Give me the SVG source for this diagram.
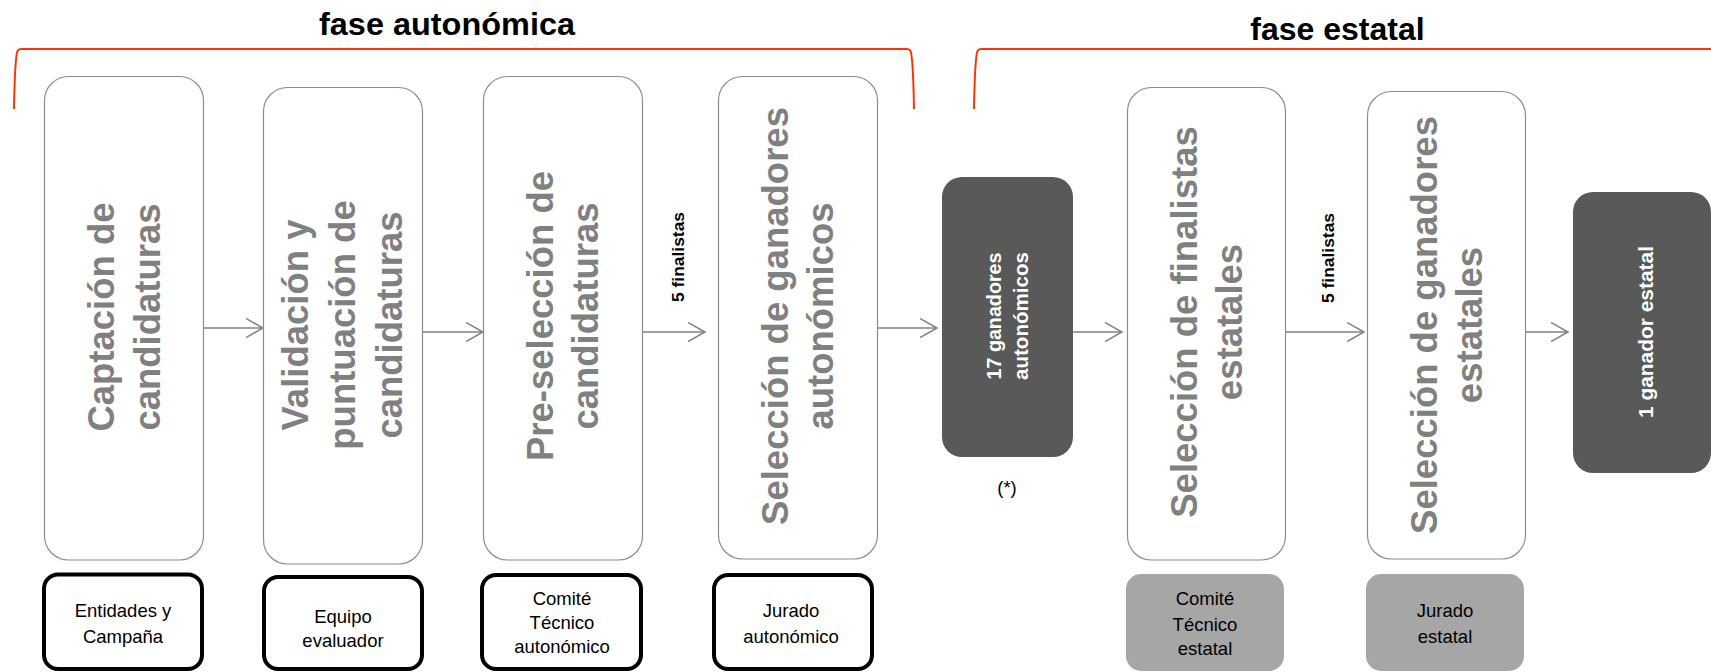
<svg xmlns="http://www.w3.org/2000/svg" width="1711" height="672" viewBox="0 0 1711 672">
<style>
.title{font-family:"Liberation Sans",Arial,sans-serif;font-weight:bold;fill:#000;text-anchor:middle}
.step{fill:#fff;stroke:#8c8c8c;stroke-width:1.2}
.steptxt{font-family:"Liberation Sans",Arial,sans-serif;font-weight:bold;font-size:36.5px;fill:#808080;text-anchor:middle}
.dark{fill:#595959}
.darktxt{font-family:"Liberation Sans",Arial,sans-serif;font-weight:bold;font-size:19.5px;fill:#fff;text-anchor:middle}
.actor{fill:#fff;stroke:#000;stroke-width:4}
.actor2{fill:#a6a6a6}
.actortxt{font-family:"Liberation Sans",Arial,sans-serif;font-size:18.5px;fill:#000;text-anchor:middle}
.fin{font-family:"Liberation Sans",Arial,sans-serif;font-weight:bold;font-size:16px;fill:#000;text-anchor:middle}
.bracket{fill:none;stroke:#ff3300;stroke-width:2}
.conn{fill:none;stroke:#808080;stroke-width:1.5}
</style>
<defs>
<marker id="chev" markerUnits="userSpaceOnUse" markerWidth="20" markerHeight="22" refX="17" refY="10" orient="auto" viewBox="0 0 20 22">
<path d="M0,0.5 L17,10 L0,19.5" fill="none" stroke="#808080" stroke-width="1.5"/>
</marker>
</defs>

<g id="phase-autonomica">
<path class="bracket" d="M14,109 C14.5,80 15.5,56 17.5,51 Q18.5,49 21,49 L907,49 Q909.5,49 910.5,51 C912.5,56 913.5,80 914,109"/>
<text class="title" x="447" y="35" font-size="30.5" textLength="256" lengthAdjust="spacingAndGlyphs">fase autonómica</text>
</g>
<g id="phase-estatal">
<path class="bracket" d="M974,109 C974.5,80 975.5,56 977.5,51 Q978.5,49 981,49 L1711,49"/>
<text class="title" x="1337.5" y="40" font-size="32">fase estatal</text>
</g>

<g id="connectors">
<line class="conn" x1="204" y1="328" x2="263" y2="328" marker-end="url(#chev)"/>
<line class="conn" x1="423" y1="332" x2="483" y2="332" marker-end="url(#chev)"/>
<line class="conn" x1="643" y1="332" x2="705" y2="332" marker-end="url(#chev)"/>
<line class="conn" x1="878" y1="328" x2="937" y2="328" marker-end="url(#chev)"/>
<line class="conn" x1="1073" y1="332" x2="1122" y2="332" marker-end="url(#chev)"/>
<line class="conn" x1="1286" y1="332" x2="1364" y2="332" marker-end="url(#chev)"/>
<line class="conn" x1="1526" y1="332" x2="1568" y2="332" marker-end="url(#chev)"/>
<text class="fin" transform="translate(684,257) rotate(-90)" textLength="90" lengthAdjust="spacingAndGlyphs">5 finalistas</text>
<text class="fin" transform="translate(1334,258) rotate(-90)" textLength="90" lengthAdjust="spacingAndGlyphs">5 finalistas</text>
</g>

<g id="captacion">
<rect class="step" x="44.5" y="76.5" width="159" height="483.5" rx="24"/>
<text class="steptxt" transform="translate(124,317) rotate(-90)"><tspan x="0" y="-10">Captación de</tspan><tspan x="0" y="36">candidaturas</tspan></text>
</g>
<g id="validacion">
<rect class="step" x="263.5" y="87.5" width="159" height="476.5" rx="24"/>
<text class="steptxt" transform="translate(343,325) rotate(-90)"><tspan x="0" y="-35">Validación y</tspan><tspan x="0" y="12">puntuación de</tspan><tspan x="0" y="59">candidaturas</tspan></text>
</g>
<g id="preseleccion">
<rect class="step" x="483.5" y="76.5" width="159" height="483.5" rx="24"/>
<text class="steptxt" transform="translate(563,316) rotate(-90)"><tspan x="0" y="-10">Pre-selección de</tspan><tspan x="0" y="35">candidaturas</tspan></text>
</g>
<g id="seleccion-ganadores-autonomicos">
<rect class="step" x="718.5" y="76.5" width="159" height="482.5" rx="24"/>
<text class="steptxt" transform="translate(798,316) rotate(-90)"><tspan x="0" y="-10">Selección de ganadores</tspan><tspan x="0" y="35">autonómicos</tspan></text>
</g>
<g id="ganadores-autonomicos">
<rect class="dark" x="942" y="177" width="131" height="280" rx="20"/>
<text class="darktxt" transform="translate(1008,316) rotate(-90)"><tspan x="0" y="-7" textLength="127" lengthAdjust="spacingAndGlyphs">17 ganadores</tspan><tspan x="0" y="19.5" textLength="128" lengthAdjust="spacingAndGlyphs">autonómicos</tspan></text>
<text class="actortxt" x="1007" y="494" font-size="21">(*)</text>
</g>
<g id="seleccion-finalistas-estatales">
<rect class="step" x="1127.5" y="87.5" width="158" height="472.5" rx="24"/>
<text class="steptxt" transform="translate(1206.5,322) rotate(-90)"><tspan x="0" y="-9.5">Selección de finalistas</tspan><tspan x="0" y="35.5">estatales</tspan></text>
</g>
<g id="seleccion-ganadores-estatales">
<rect class="step" x="1367.5" y="91.5" width="158" height="467.5" rx="24"/>
<text class="steptxt" transform="translate(1446.5,325) rotate(-90)"><tspan x="0" y="-9.5">Selección de ganadores</tspan><tspan x="0" y="35.5">estatales</tspan></text>
</g>
<g id="ganador-estatal">
<rect class="dark" x="1573" y="192" width="138" height="281" rx="20"/>
<text class="darktxt" transform="translate(1653,332) rotate(-90)" textLength="172" lengthAdjust="spacingAndGlyphs">1 ganador estatal</text>
</g>

<g id="actor-entidades">
<rect class="actor" x="44" y="574.5" width="158" height="94.5" rx="14"/>
<text class="actortxt" x="123" y="617">Entidades y</text>
<text class="actortxt" x="123" y="643">Campaña</text>
</g>
<g id="actor-equipo">
<rect class="actor" x="264" y="577" width="158" height="92" rx="14"/>
<text class="actortxt" x="343" y="623">Equipo</text>
<text class="actortxt" x="343" y="647">evaluador</text>
</g>
<g id="actor-comite-autonomico">
<rect class="actor" x="482" y="575" width="159" height="94" rx="14"/>
<text class="actortxt" x="562" y="605">Comité</text>
<text class="actortxt" x="562" y="629">Técnico</text>
<text class="actortxt" x="562" y="653">autonómico</text>
</g>
<g id="actor-jurado-autonomico">
<rect class="actor" x="714" y="575" width="158" height="94" rx="14"/>
<text class="actortxt" x="791" y="617">Jurado</text>
<text class="actortxt" x="791" y="643">autonómico</text>
</g>
<g id="actor-comite-estatal">
<rect class="actor2" x="1126" y="574" width="158" height="97" rx="15"/>
<text class="actortxt" x="1205" y="605">Comité</text>
<text class="actortxt" x="1205" y="631">Técnico</text>
<text class="actortxt" x="1205" y="655">estatal</text>
</g>
<g id="actor-jurado-estatal">
<rect class="actor2" x="1366" y="574" width="158" height="97" rx="15"/>
<text class="actortxt" x="1445" y="617">Jurado</text>
<text class="actortxt" x="1445" y="643">estatal</text>
</g>
</svg>
